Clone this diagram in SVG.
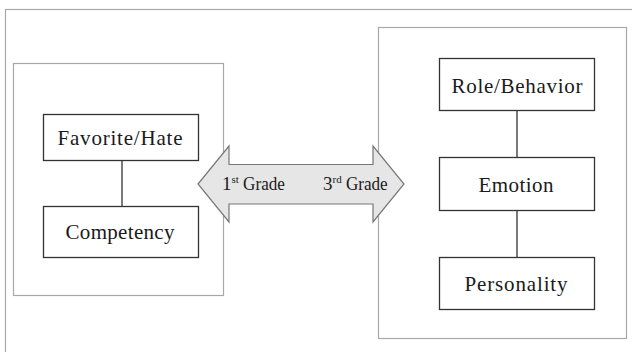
<svg xmlns="http://www.w3.org/2000/svg" width="632" height="352" viewBox="0 0 632 352">
<style>
.frame{fill:none;stroke:#a8a8a8;stroke-width:1.2}
.box{fill:#fff;stroke:#333;stroke-width:1.3}
.lbl{font-family:"Liberation Serif","Times New Roman",serif;font-size:21px;fill:#1a1a1a;text-anchor:middle}
.g{font-family:"Liberation Serif","Times New Roman",serif;font-size:19px;fill:#1a1a1a}
.sup{font-size:11px}
.conn{stroke:#333;stroke-width:1.3;fill:none}
</style>
<rect x="0" y="0" width="632" height="352" fill="#fff"/>
<rect class="frame" x="5.5" y="9.5" width="660" height="380"/>
<g id="left-group">
<rect class="frame" x="13.5" y="63.5" width="210" height="232"/>
</g>
<g id="right-group">
<rect class="frame" x="378.5" y="27.5" width="248" height="311"/>
</g>
<g id="connectors">
<line class="conn" x1="122" y1="160" x2="122" y2="206"/>
<line class="conn" x1="517" y1="110" x2="517" y2="157"/>
<line class="conn" x1="517" y1="210" x2="517" y2="257"/>
</g>
<g id="arrow">
<path d="M198,184 L229,146 L229,164.5 L373,164.5 L373,146 L404,184 L373,222 L373,204 L229,204 L229,222 Z" fill="#e6e6e6" stroke="#777" stroke-width="1.2"/>
<text class="g" x="222" y="190">1<tspan class="sup" dy="-7">st</tspan><tspan dy="7" textLength="46" lengthAdjust="spacingAndGlyphs"> Grade</tspan></text>
<text class="g" x="323" y="190">3<tspan class="sup" dy="-7">rd</tspan><tspan dy="7" textLength="46" lengthAdjust="spacingAndGlyphs"> Grade</tspan></text>
</g>
<g id="favorite-hate">
<rect class="box" x="43.5" y="114.5" width="155" height="46"/>
<text class="lbl" x="120" y="145" textLength="125" lengthAdjust="spacing">Favorite/Hate</text>
</g>
<g id="competency">
<rect class="box" x="43.5" y="206.5" width="155" height="51"/>
<text class="lbl" x="120" y="239" textLength="109" lengthAdjust="spacing">Competency</text>
</g>
<g id="role-behavior">
<rect class="box" x="439.5" y="58.5" width="155" height="52"/>
<text class="lbl" x="517" y="93" textLength="131" lengthAdjust="spacing">Role/Behavior</text>
</g>
<g id="emotion">
<rect class="box" x="439.5" y="157.5" width="155" height="53"/>
<text class="lbl" x="516" y="192" textLength="75" lengthAdjust="spacing">Emotion</text>
</g>
<g id="personality">
<rect class="box" x="439.5" y="257.5" width="155" height="52"/>
<text class="lbl" x="516" y="291" textLength="103" lengthAdjust="spacing">Personality</text>
</g>
</svg>
